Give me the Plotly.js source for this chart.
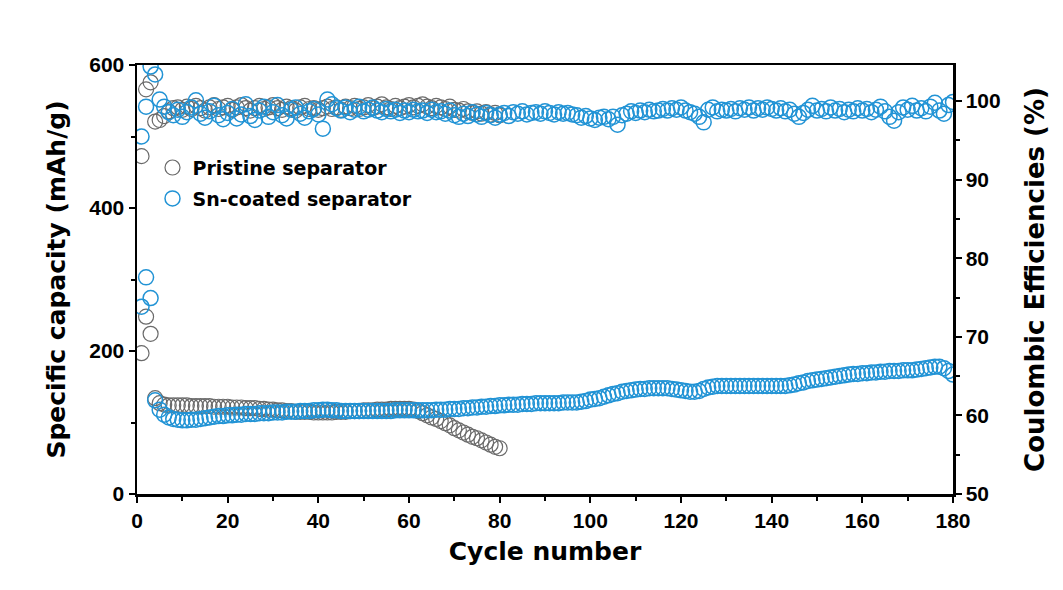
<!DOCTYPE html>
<html>
<head>
<meta charset="utf-8">
<script src="https://cdn.plot.ly/plotly-3.0.1.min.js"></script>
<style>html,body{margin:0;padding:0;background:#fff;}#chart{width:1063px;height:590px;}</style>
</head>
<body>
<div id="chart"></div>
<script>
// Specific capacity (mAh/g), pristine separator, cycles 1..80
const pristineCapacity = [197,248,224,134,127,125,124,124,124,124,
124,123,123,123,123,123,122,122,122,122,
121,121,121,120,120,120,119,119,118,118,
117,117,116,116,115,115,115,115,114,114,
114,114,114,115,115,115,116,116,116,117,
117,117,118,118,118,119,119,119,119,119,
118,116,113,110,107,105,102,99,96,92,
89,86,83,80,78,75,72,69,66,64];

// Coulombic efficiency (%), pristine separator, cycles 1..80
const pristineCE = [93.0,101.5,102.4,97.4,97.6,98.1,98.7,99.1,99.2,98.9,
99.3,99.0,99.4,99.1,98.8,99.2,99.5,99.0,99.2,99.4,
98.9,99.2,99.5,99.1,98.8,99.1,99.4,99.0,99.2,99.5,
99.1,98.9,99.3,99.1,98.8,99.2,99.4,99.0,99.1,98.9,
99.1,99.3,99.0,99.2,98.9,99.3,99.1,99.4,99.0,99.2,
99.5,99.1,99.3,99.6,99.2,99.0,99.4,99.1,99.3,99.5,
99.2,99.4,99.6,99.3,99.1,99.4,99.2,99.0,99.3,98.9,
98.8,99.0,98.7,98.5,98.7,98.4,98.6,98.3,98.5,98.2];

// Specific capacity (mAh/g), Sn-coated separator, cycles 1..180
const snCapacity = [262,303,274,131,118,111,107,105,104,103,
103,104,104,105,106,107,108,109,109,110,
110,111,111,112,112,112,113,113,113,114,
114,114,115,115,115,116,116,116,117,117,
118,118,117,117,116,116,116,116,116,116,
116,116,116,116,116,116,117,117,117,117,
117,117,117,117,117,118,118,118,119,119,
119,120,120,121,121,122,122,123,123,124,
124,125,125,125,126,126,126,127,127,127,
127,127,127,128,128,128,128,129,130,132,
133,134,136,138,140,141,143,144,145,146,
147,147,148,148,148,148,148,147,146,145,
144,143,143,144,147,149,150,151,151,151,
151,151,151,151,151,151,151,151,151,151,
151,151,151,152,153,155,156,158,159,160,
161,162,163,164,165,166,167,168,168,169,
169,170,170,171,171,172,172,172,173,173,
173,174,175,176,177,178,178,176,172,167];

// Coulombic efficiency (%), Sn-coated separator, cycles 1..180
const snCE = [95.5,99.3,104.4,103.4,100.2,99.3,98.6,98.2,98.9,98.0,
98.6,99.2,100.1,98.4,97.9,98.7,99.4,98.2,97.7,98.5,
99.0,97.8,98.3,99.6,98.1,97.6,98.8,99.3,98.0,98.6,
99.5,98.2,97.8,98.9,99.2,98.4,97.9,98.7,99.0,98.3,
96.5,100.2,99.6,99.1,98.8,99.2,98.6,98.9,99.3,98.7,
98.9,99.2,98.8,98.6,99.0,98.7,98.9,98.5,98.8,98.6,
98.9,98.7,98.8,98.5,98.9,98.6,98.7,98.4,98.8,98.2,
98.0,98.4,98.1,98.6,98.3,98.0,98.5,98.2,97.9,98.3,
98.5,98.1,98.6,98.4,98.7,98.3,98.5,98.6,98.4,98.7,
98.5,98.3,98.6,98.4,98.5,98.3,98.2,97.9,98.1,97.8,
97.6,97.9,98.0,97.7,98.0,97.0,98.2,98.4,98.7,98.5,
98.8,98.6,98.9,98.7,98.8,99.0,98.8,99.1,98.9,99.2,
98.8,98.6,98.4,98.0,97.3,98.9,99.2,98.7,98.9,98.8,
99.0,98.7,99.1,98.9,99.2,98.8,99.1,98.9,99.2,99.0,
98.8,99.1,98.7,98.9,98.4,98.0,98.5,98.9,99.4,98.8,
99.0,98.7,99.2,98.8,99.0,98.6,98.9,98.7,99.1,98.8,
99.0,98.6,98.9,99.3,98.7,98.0,97.5,98.6,99.2,98.9,
99.4,98.8,99.1,98.7,99.3,99.8,98.8,98.4,99.5,99.9];

const xTickVals = [0,20,40,60,80,100,120,140,160,180];
const yTickVals = [0,200,400,600];
const y2TickVals = [50,60,70,80,90,100];
const seriesNames = ['Pristine separator','Sn-coated separator'];

const cyclesOf = arr => arr.map((_, i) => i + 1);

const grayCol = '#6a6a6a';
const blueCol = '#2193d5';
const mk = (c, w) => ({symbol:'circle-open', size:15, color:c, line:{width:w, color:c}});

const traces = [
  {x:cyclesOf(pristineCapacity), y:pristineCapacity, type:'scatter', mode:'markers',
   name:seriesNames[0], legend:'legend', marker:mk(grayCol, 1.2), yaxis:'y', cliponaxis:true},
  {x:cyclesOf(snCapacity), y:snCapacity, type:'scatter', mode:'markers',
   name:seriesNames[1], legend:'legend2', marker:mk(blueCol, 1.5), yaxis:'y', cliponaxis:true},
  {x:cyclesOf(pristineCE), y:pristineCE, type:'scatter', mode:'markers',
   name:seriesNames[0], showlegend:false, marker:mk(grayCol, 1.2), yaxis:'y2', cliponaxis:true},
  {x:cyclesOf(snCE), y:snCE, type:'scatter', mode:'markers',
   name:seriesNames[1], showlegend:false, marker:mk(blueCol, 1.5), yaxis:'y2', cliponaxis:true}
];

const tickFam = 'Liberation Sans, Arial, sans-serif';
const titleFam = 'DejaVu Sans, sans-serif';
const legFont = {family:titleFam, size:19, color:'#000', weight:'bold'};
const layout = {
  width:1063, height:590,
  margin:{l:137, r:110, t:65, b:96},
  paper_bgcolor:'#ffffff', plot_bgcolor:'#ffffff',
  font:{family:tickFam, color:'#000'},
  showlegend:true,
  legend:{x:0.019, y:0.805, xanchor:'left', yanchor:'top', bgcolor:'rgba(0,0,0,0)',
          font:legFont, itemwidth:30},
  legend2:{x:0.019, y:0.733, xanchor:'left', yanchor:'top', bgcolor:'rgba(0,0,0,0)',
          font:legFont, itemwidth:30},
  xaxis:{range:[0,180], tickvals:xTickVals, ticktext:xTickVals.map(String),
         showline:true, linewidth:2.5, linecolor:'#000', mirror:true,
         ticks:'outside', ticklen:6, tickwidth:2, tickcolor:'#000',
         minor:{dtick:10, tick0:0, ticks:'outside', ticklen:4, tickwidth:2, tickcolor:'#000'},
         showgrid:false, zeroline:false,
         tickfont:{family:tickFam, size:21, weight:'bold'},
         title:{text:'Cycle number', font:{family:titleFam, size:25, weight:'bold'}, standoff:12}},
  yaxis:{range:[0,600], tickvals:yTickVals, ticktext:yTickVals.map(String),
         showline:true, linewidth:2.5, linecolor:'#000',
         ticks:'outside', ticklen:6, tickwidth:2, tickcolor:'#000',
         minor:{dtick:100, tick0:0, ticks:'outside', ticklen:4, tickwidth:2, tickcolor:'#000'},
         showgrid:false, zeroline:false,
         tickfont:{family:tickFam, size:21, weight:'bold'},
         title:{text:'Specific capacity (mAh/g)', font:{family:titleFam, size:25, weight:'bold'}, standoff:17}},
  yaxis2:{range:[50,104.6], overlaying:'y', side:'right', tickvals:y2TickVals, ticktext:y2TickVals.map(String),
         showline:true, linewidth:2.5, linecolor:'#000',
         ticks:'outside', ticklen:6, tickwidth:2, tickcolor:'#000',
         minor:{dtick:5, tick0:50, ticks:'outside', ticklen:4, tickwidth:2, tickcolor:'#000'},
         showgrid:false, zeroline:false,
         tickfont:{family:tickFam, size:21, weight:'bold'},
         title:{text:'Coulombic Efficiencies (%)', font:{family:titleFam, size:26, weight:'bold'}, standoff:26}}
};

Plotly.newPlot('chart', traces, layout, {displayModeBar:false, staticPlot:true});
</script>
</body>
</html>
